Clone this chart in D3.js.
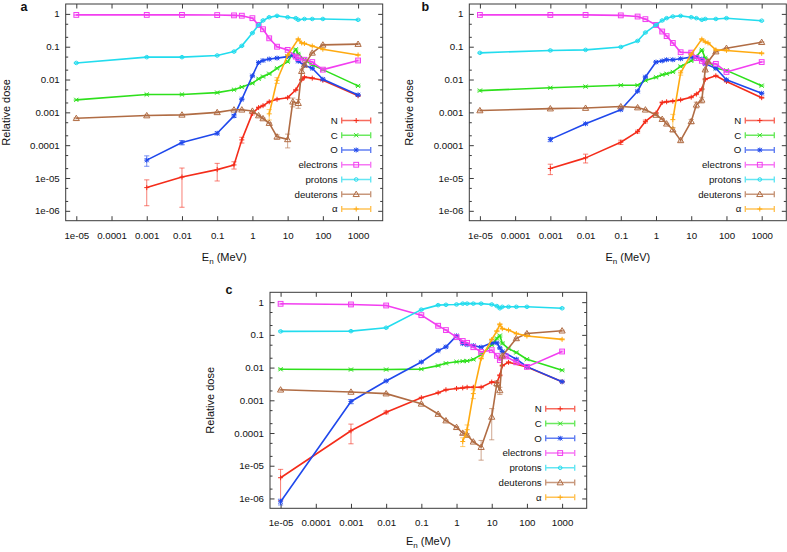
<!DOCTYPE html>
<html><head><meta charset="utf-8">
<script src="https://cdn.jsdelivr.net/npm/d3@7"></script>
<style>
body{margin:0;background:#fff}
svg{display:block}
text{font-family:"Liberation Sans",Arial,Helvetica,sans-serif;fill:#111}
</style>
</head><body>
<svg id="chart" width="787" height="552"></svg>
<script>
const _ = null;
// neutron energies (MeV)
const energies = [1e-5, 0.001, 0.01, 0.1, 0.3, 0.5, 1, 1.5, 2, 3, 5, 10, 14, 17, 20, 25, 30, 50, 100, 1000];

const xTickValues = [1e-5, 1e-4, 1e-3, 1e-2, 0.1, 1, 10, 100, 1000];
const xTickLabels = ["1e-05", "0.0001", "0.001", "0.01", "0.1", "1", "10", "100", "1000"];
const yTickValues = [1, 0.1, 0.01, 0.001, 1e-4, 1e-5, 1e-6];
const yTickLabels = ["1", "0.1", "0.01", "0.001", "0.0001", "1e-05", "1e-06"];

const seriesNames = ["N", "C", "O", "electrons", "protons", "deuterons", "α"];
const seriesColors = ["#f42c1a", "#2ee01c", "#1f48ec", "#f23ef0", "#22dcee", "#b06c44", "#ffaa10"];
const seriesMarkers = ["plus", "cross", "star", "square", "circle", "triangle", "plus"];

// ---- panel a ----
const aN = [_, 5.1e-6, 1.07e-5, 1.8e-5, 2.5e-5, 1.45e-4, 9.3e-4, 1.4e-3, 1.6e-3, 2.1e-3, 2.5e-3, 2.8e-3, _, 4.8e-3, _, 9.8e-3, 1.18e-2, 1.1e-2, 9.5e-3, 3.2e-3];
const aC = [2.4e-3, 3.5e-3, 3.5e-3, 4.0e-3, 4.9e-3, 5.9e-3, 7.7e-3, 1.05e-2, 1.23e-2, 1.5e-2, 2.2e-2, 3.5e-2, _, 8.3e-2, 6.0e-2, _, 4.0e-2, 2.8e-2, 2.0e-2, 6.4e-3];
const aO = [_, 3.5e-5, 1.2e-4, 2.3e-4, 7.8e-4, 2.5e-3, 1.3e-2, 3.3e-2, 3.8e-2, 4.2e-2, 4.5e-2, 5.0e-2, 5.5e-2, _, 3.6e-2, _, 2.7e-2, 2.2e-2, 1.02e-2, 3.4e-3];
const aE = [0.93, 0.93, 0.93, 0.92, 0.9, 0.88, 0.74, 0.46, 0.34, 0.18, 0.1, 0.08, _, 0.05, 0.045, _, 0.04, 0.034, 0.02, 0.038];
const aP = [0.032, 0.048, 0.048, 0.054, 0.071, 0.106, 0.26, 0.46, 0.63, 0.79, 0.87, 0.79, _, 0.74, 0.66, _, 0.70, 0.70, 0.70, 0.66];
const aD = [6.6e-4, 8.0e-4, 8.4e-4, 1.0e-3, 1.2e-3, 1.2e-3, 1.1e-3, 8.0e-4, 6.5e-4, 4.7e-4, 1.8e-4, 1.5e-4, 2.1e-3, _, 1.9e-3, 1.8e-2, 2.8e-2, 6.5e-2, 0.114, 0.12];
const aA = [_, _, _, _, _, _, _, _, _, 9e-4, 9.5e-3, 5.5e-2, _, _, 0.17, 0.13, 0.125, 0.105, 0.084, 0.056];
// relative (linear) errors, null = small default
const aNErr = [_, 0.72, 0.88, 0.55, 0.25, 0.2, 0.1, _, _, _, _, _, _, _, _, _, _, _, _, _];
const aOErr = [_, 0.35, 0.15, 0.1, 0.1, _, _, _, _, _, _, _, _, _, _, _, _, _, _, _];
const aDErr = [_, _, _, _, _, _, _, _, _, _, 0.15, 0.45, 0.3, _, 0.3, 0.15, _, _, _, _];
const aAErr = [_, _, _, _, _, _, _, _, _, 0.35, 0.2, _, _, _, _, _, _, _, _, _];

// ---- panel b ----
const bN = [_, 1.95e-5, 4.1e-5, 1.23e-4, 2.6e-4, 5.3e-4, 9.5e-4, 2.0e-3, 2.1e-3, 2.2e-3, 2.4e-3, 2.9e-3, 3.6e-3, _, 5.1e-3, 1.02e-2, _, 1.3e-2, 8.7e-3, 2.8e-3];
const bC = [4.6e-3, 5.6e-3, 6.1e-3, 6.7e-3, 6.7e-3, 9.4e-3, 1.17e-2, 1.4e-2, 1.5e-2, 1.7e-2, 2.5e-2, 3.7e-2, 5.0e-2, _, 8.0e-2, 4.5e-2, _, 2.2e-2, 1.9e-2, 6.5e-3];
const bO = [_, 1.5e-4, 4.5e-4, 1.2e-3, 4.4e-3, 1.2e-2, 3.4e-2, 3.7e-2, 4.0e-2, 4.0e-2, 4.3e-2, 4.8e-2, 4.8e-2, _, 4.2e-2, 3.0e-2, _, 2.2e-2, 9.8e-3, 3.8e-3];
const bE = [0.93, 0.93, 0.93, 0.9, 0.83, 0.69, 0.46, 0.29, 0.21, 0.13, 0.068, 0.066, 0.045, _, 0.037, 0.033, _, 0.03, 0.017, 0.034];
const bP = [0.065, 0.077, 0.08, 0.098, 0.15, 0.27, 0.46, 0.63, 0.74, 0.83, 0.87, 0.79, 0.74, _, 0.66, 0.7, _, 0.7, 0.74, 0.62];
const bD = [1.14e-3, 1.3e-3, 1.35e-3, 1.5e-3, 1.4e-3, 1.2e-3, 8.3e-4, 6.2e-4, 4.5e-4, 3.0e-4, 1.4e-4, 5.3e-4, 1.7e-3, _, 2.4e-3, 2.0e-2, 3.5e-2, 7.1e-2, 9.0e-2, 0.137];
const bA = [_, _, _, _, _, _, _, _, _, 6e-4, 1.6e-2, 5.9e-2, _, _, 0.17, 0.14, 0.13, 0.08, 0.077, 0.063];
const bNErr = [_, 0.35, 0.3, 0.15, 0.1, 0.1, _, _, _, _, _, _, _, _, _, _, _, _, _, _];
const bOErr = [_, 0.15, _, _, _, _, _, _, _, _, _, _, _, _, _, _, _, _, _, _];
const bDErr = [_, _, _, _, _, _, _, _, _, 0.15, 0.1, 0.15, 0.2, _, 0.2, _, _, _, _, _];
const bAErr = [_, _, _, _, _, _, _, _, _, 0.45, 0.15, _, _, _, _, _, _, _, _, _];

// ---- panel c ----
const cN = [4.3e-6, 1.17e-4, 4.3e-4, 1.2e-3, 1.7e-3, 2.1e-3, 2.3e-3, 2.4e-3, 2.5e-3, 2.5e-3, 2.5e-3, 3.6e-3, 3.5e-3, 5.8e-3, 1.15e-2, _, 1.45e-2, _, 1.05e-2, 3.7e-3];
const cC = [8.9e-3, 8.7e-3, 8.7e-3, 9.0e-3, 1.15e-2, 1.35e-2, 1.5e-2, 1.57e-2, 1.6e-2, 1.78e-2, 2.5e-2, 4.9e-2, 7.8e-2, 9.5e-2, 5.5e-2, _, 3.8e-2, 2.9e-2, 1.8e-2, 8.3e-3];
const cO = [7.9e-7, 9.2e-4, 3.9e-3, 1.48e-2, 3.3e-2, 4.3e-2, 9.3e-2, 5.4e-2, 5.0e-2, 4.7e-2, 4.2e-2, 5.7e-2, 5.7e-2, 4.0e-2, 3.1e-2, _, _, 1.8e-2, 1.07e-2, 3.7e-3];
const cE = [0.89, 0.85, 0.79, 0.4, 0.19, 0.14, 0.085, 0.065, 0.057, 0.042, 0.03, 0.034, 0.023, 0.017, _, 0.022, _, 0.0145, 0.0105, 0.031];
const cP = [0.128, 0.13, 0.165, 0.59, 0.81, 0.83, 0.85, 0.9, 0.9, 0.9, 0.9, 0.85, 0.76, 0.65, 0.72, _, 0.72, 0.72, 0.72, 0.65];
const cD = [2.1e-3, 1.8e-3, 1.6e-3, 7.8e-4, 3.8e-4, 2.4e-4, 1.5e-4, 1.0e-4, 8.7e-5, 5.4e-5, 3.7e-5, 3.1e-4, 3.3e-3, 2.0e-3, 2.3e-2, _, _, 7.8e-2, 0.11, 0.134];
const cA = [_, _, _, _, _, _, _, 5.5e-5, 1.26e-4, 1.6e-3, 1.9e-2, 7.2e-2, 0.13, 0.21, 0.155, _, 0.14, 0.11, 0.092, 0.073];
const cNErr = [0.8, 0.6, 0.1, _, _, _, _, _, _, _, _, _, _, _, _, _, _, _, _, _];
const cOErr = [0.2, 0.15, _, _, _, _, _, _, _, _, _, _, _, _, _, _, _, _, _, _];
const cDErr = [_, _, _, _, _, _, _, 0.1, 0.1, _, 0.6, 0.8, 0.2, 0.25, _, _, _, _, _, _];
const cAErr = [_, _, _, _, _, _, _, 0.3, 0.4, 0.3, _, _, _, _, _, _, _, _, _, _];

const panels = [
  {label: "a", left: 65.7, top: 4, width: 317, height: 216.7, lx: 20.5, ly: 10.5, titleGap: 40.5,
   series: [aN, aC, aO, aE, aP, aD, aA], errs: [aNErr, _, aOErr, _, _, aDErr, aAErr]},
  {label: "b", left: 469.3, top: 4, width: 317, height: 216.7, lx: 421.5, ly: 10.5, titleGap: 40.5,
   series: [bN, bC, bO, bE, bP, bD, bA], errs: [bNErr, _, bOErr, _, _, bDErr, bAErr]},
  {label: "c", left: 270, top: 292.3, width: 316.7, height: 216, lx: 225.5, ly: 294, titleGap: 37,
   series: [cN, cC, cO, cE, cP, cD, cA], errs: [cNErr, _, cOErr, _, _, cDErr, cAErr]}
];

const svg = d3.select("#chart");
const FONT = 9.7;
const frameColor = "#3a3a3a";

function drawMarker(g, type, x, y, color) {
  const s = 2.5;
  if (type === "plus" || type === "star") {
    g.append("path").attr("d", `M${x - s},${y}H${x + s}M${x},${y - s}V${y + s}`)
      .attr("stroke", color).attr("stroke-width", 1).attr("fill", "none");
  }
  if (type === "cross" || type === "star") {
    const c = 2.1;
    g.append("path").attr("d", `M${x - c},${y - c}L${x + c},${y + c}M${x - c},${y + c}L${x + c},${y - c}`)
      .attr("stroke", color).attr("stroke-width", 1).attr("fill", "none");
  }
  if (type === "square") {
    g.append("rect").attr("x", x - 2.4).attr("y", y - 2.4).attr("width", 4.8).attr("height", 4.8)
      .attr("stroke", color).attr("stroke-width", 1).attr("fill", "none");
  }
  if (type === "circle") {
    g.append("circle").attr("cx", x).attr("cy", y).attr("r", 1.8)
      .attr("stroke", color).attr("stroke-width", 1).attr("fill", "none");
  }
  if (type === "triangle") {
    g.append("path").attr("d", `M${x},${y - 3.1}L${x + 3.1},${y + 2.3}L${x - 3.1},${y + 2.3}Z`)
      .attr("stroke", color).attr("stroke-width", 1).attr("fill", "none");
  }
}

panels.forEach(p => {
  const x = d3.scaleLog().domain([5e-6, 5000]).range([p.left, p.left + p.width]);
  const y = d3.scaleLog().domain([5e-7, 2]).range([p.top + p.height, p.top]);
  const g = svg.append("g");

  // minor y ticks (2 and 5 of each decade)
  const yMinor = [];
  for (let e = -7; e <= 0; e++) { [2, 5].forEach(m => { const v = m * Math.pow(10, e); if (v > 5e-7 && v < 2) yMinor.push(v); }); }

  const bottom = d3.axisBottom(x).tickValues(xTickValues).tickFormat((d, i) => xTickLabels[i]).tickSizeInner(-4.5).tickSizeOuter(0).tickPadding(11);
  const top = d3.axisTop(x).tickValues(xTickValues).tickFormat("").tickSizeInner(-4.5).tickSizeOuter(0);
  const left = d3.axisLeft(y).tickValues(yTickValues).tickFormat((d, i) => yTickLabels[i]).tickSizeInner(-4.5).tickSizeOuter(0).tickPadding(6);
  const right = d3.axisRight(y).tickValues(yTickValues).tickFormat("").tickSizeInner(-4.5).tickSizeOuter(0);
  const leftMinor = d3.axisLeft(y).tickValues(yMinor).tickFormat("").tickSizeInner(-2.5).tickSizeOuter(0);
  const rightMinor = d3.axisRight(y).tickValues(yMinor).tickFormat("").tickSizeInner(-2.5).tickSizeOuter(0);

  const axes = [
    [bottom, `translate(0,${p.top + p.height})`],
    [top, `translate(0,${p.top})`],
    [left, `translate(${p.left},0)`],
    [right, `translate(${p.left + p.width},0)`],
    [leftMinor, `translate(${p.left},0)`],
    [rightMinor, `translate(${p.left + p.width},0)`]
  ];
  axes.forEach(([ax, tr]) => {
    const a = g.append("g").attr("transform", tr).call(ax);
    a.select(".domain").remove();
    a.selectAll("line").attr("stroke", frameColor);
    a.selectAll("text").attr("font-size", FONT).attr("fill", "#111")
      .style("font-family", '"Liberation Sans",Arial,Helvetica,sans-serif');
  });

  // frame
  g.append("rect").attr("x", p.left).attr("y", p.top).attr("width", p.width).attr("height", p.height)
    .attr("fill", "none").attr("stroke", frameColor).attr("stroke-width", 1);

  // axis titles
  const xt = g.append("text").attr("x", p.left + p.width / 2).attr("y", p.top + p.height + p.titleGap)
    .attr("text-anchor", "middle").attr("font-size", 11);
  xt.append("tspan").text("E");
  xt.append("tspan").attr("font-size", 8).attr("dy", 2.5).text("n");
  xt.append("tspan").attr("dy", -2.5).text(" (MeV)");

  g.append("text").attr("transform", `translate(${p.left - 56},${p.top + p.height / 2}) rotate(-90)`)
    .attr("text-anchor", "middle").attr("font-size", 11).text("Relative dose");

  g.append("text").attr("x", p.lx).attr("y", p.ly).attr("font-size", 12.5).attr("font-weight", "bold").text(p.label);

  // data
  const plot = g.append("g");
  const line = d3.line().x(d => x(d.e)).y(d => y(d.v));
  const yMinV = 5e-7, yMaxV = 2;
  p.series.forEach((vals, si) => {
    const col = seriesColors[si];
    const errs = p.errs[si];
    const pts = energies.map((e, i) => ({e, v: vals[i], f: errs && errs[i] != null ? errs[i] : 0.04}))
      .filter(d => d.v != null);
    const sg = plot.append("g");
    // error bars
    pts.forEach(d => {
      const lo = Math.max(d.v * (1 - d.f), yMinV);
      const hi = Math.min(d.v * (1 + d.f), yMaxV);
      const xx = x(d.e), y1 = y(lo), y2 = y(hi);
      sg.append("path").attr("d", `M${xx},${y1}V${y2}M${xx - 2.6},${y1}H${xx + 2.6}M${xx - 2.6},${y2}H${xx + 2.6}`)
        .attr("stroke", col).attr("stroke-opacity", 0.6).attr("stroke-width", 1).attr("fill", "none");
    });
    sg.append("path").datum(pts).attr("d", line).attr("fill", "none")
      .attr("stroke", col).attr("stroke-width", 1.6).attr("stroke-linejoin", "round");
    pts.forEach(d => drawMarker(sg, seriesMarkers[si], x(d.e), y(d.v), col));
  });

  // legend
  const lg = g.append("g");
  const rx = p.left + p.width;
  seriesNames.forEach((name, i) => {
    const ly = p.top + 116.5 + i * 14.75;
    const col = seriesColors[i];
    lg.append("text").attr("x", rx - 45).attr("y", ly).attr("dy", "0.35em")
      .attr("text-anchor", "end").attr("font-size", FONT).text(name);
    const x1 = rx - 41, x2 = rx - 12;
    lg.append("path").attr("d", `M${x1},${ly}H${x2}M${x1},${ly - 3}V${ly + 3}M${x2},${ly - 3}V${ly + 3}`)
      .attr("stroke", col).attr("stroke-opacity", 0.7).attr("stroke-width", 1.4).attr("fill", "none");
    drawMarker(lg, seriesMarkers[i], (x1 + x2) / 2, ly, col);
  });
});
</script>
</body></html>
